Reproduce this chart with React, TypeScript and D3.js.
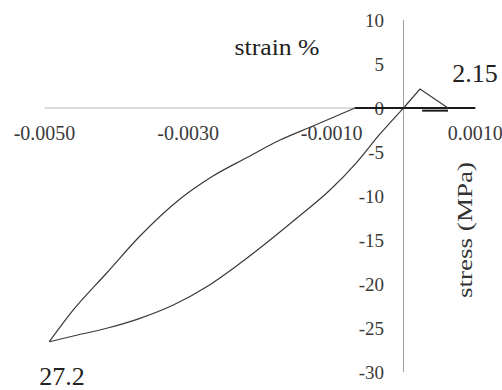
import React from 'react';
import * as d3 from 'd3';

// compression loop: loading branch from origin down to the peak, then back up
const loadStrain = [0, -0.000327, -0.000648, -0.001024, -0.001484, -0.002277, -0.002741, -0.003206, -0.00367, -0.004134, -0.004599, -0.004933];
const loadStress = [0, -2.95, -6.14, -9.32, -12.5, -17.65, -20.31, -22.39, -23.9, -25.03, -25.91, -26.56];
const unloadStrain = [-0.004933, -0.004599, -0.004134, -0.00367, -0.003113, -0.002653, -0.00218, -0.00172, -0.00126, -0.000676];
const unloadStress = [-26.56, -22.95, -18.75, -14.55, -10.34, -7.73, -5.63, -3.64, -2.05, 0];
// flat part along zero and the tension part
const flatStrain = [-0.000676, 0.001];
const flatStress = [0, 0];
const tensionStrain = [0, 0.00023, 0.00062];
const tensionStress = [0, 2.15, 0];
const tailStrain = [0.00026, 0.00062];
const tailStress = [-0.3, -0.3];

const xTicks = [-0.005, -0.003, -0.001, 0.001];
const xTickLabels = ['-0.0050', '-0.0030', '-0.0010', '0.0010'];
const yTicks = [10, 5, 0, -5, -10, -15, -20, -25, -30];

const W = 502;
const H = 390;
const font = 'Liberation Serif, DejaVu Serif, serif';

// points sorted by strain so the monotone curve works
const pts = (xs: number[], ys: number[]) =>
  xs.map((x, i) => [x, ys[i]] as [number, number]).sort((a, b) => a[0] - b[0]);

export default function App() {
  const x = d3.scaleLinear().domain([-0.005, 0.001]).range([44.5, 475.3]);
  const y = d3.scaleLinear().domain([-30, 10]).range([372, 20]);

  const smooth = d3.line<[number, number]>()
    .x(d => x(d[0]))
    .y(d => y(d[1]))
    .curve(d3.curveMonotoneX);
  const straight = d3.line<[number, number]>()
    .x(d => x(d[0]))
    .y(d => y(d[1]));

  const txt = { fontFamily: font };

  return (
    <svg width={W} height={H} style={{ position: 'absolute', left: 0, top: 0, background: '#fff' }}>
      {/* axes */}
      <line x1={x(-0.005)} x2={x(0.001)} y1={y(0)} y2={y(0)} stroke="#b8b8b8" strokeWidth={1} />
      <line x1={x(0)} x2={x(0)} y1={y(10)} y2={y(-30)} stroke="#a0a0a0" strokeWidth={1} />

      {xTicks.map((t, i) => (
        <text key={t} x={x(t)} y={140} textAnchor="middle" style={txt} fontSize={20} fill="#3a3a3a">
          {xTickLabels[i]}
        </text>
      ))}
      {yTicks.map(t => (
        <text key={t} x={384} y={y(t)} dy="0.35em" textAnchor="end" style={txt} fontSize={19} fill="#3a3a3a">
          {t}
        </text>
      ))}

      {/* data */}
      <path d={smooth(pts(loadStrain, loadStress)) || ''} fill="none" stroke="#3a3a3a" strokeWidth={1.2} />
      <path d={smooth(pts(unloadStrain, unloadStress)) || ''} fill="none" stroke="#3a3a3a" strokeWidth={1.2} />
      <path d={straight(pts(flatStrain, flatStress)) || ''} fill="none" stroke="#1a1a1a" strokeWidth={2} />
      <path d={straight(pts(tensionStrain, tensionStress)) || ''} fill="none" stroke="#3a3a3a" strokeWidth={1.2} />
      <path d={straight(pts(tailStrain, tailStress)) || ''} fill="none" stroke="#1a1a1a" strokeWidth={2} />

      {/* labels */}
      <text x={277} y={55} textAnchor="middle" style={txt} fontSize={24} fill="#222" textLength={85} lengthAdjust="spacingAndGlyphs">strain %</text>
      <text x={475} y={82} textAnchor="middle" style={txt} fontSize={26} fill="#222">2.15</text>
      <text x={62} y={385} textAnchor="middle" style={txt} fontSize={26} fill="#222">27.2</text>
      <text transform="translate(472,230) rotate(-90)" textAnchor="middle" style={txt} fontSize={22} fill="#333" textLength={136} lengthAdjust="spacingAndGlyphs">stress (MPa)</text>
    </svg>
  );
}
